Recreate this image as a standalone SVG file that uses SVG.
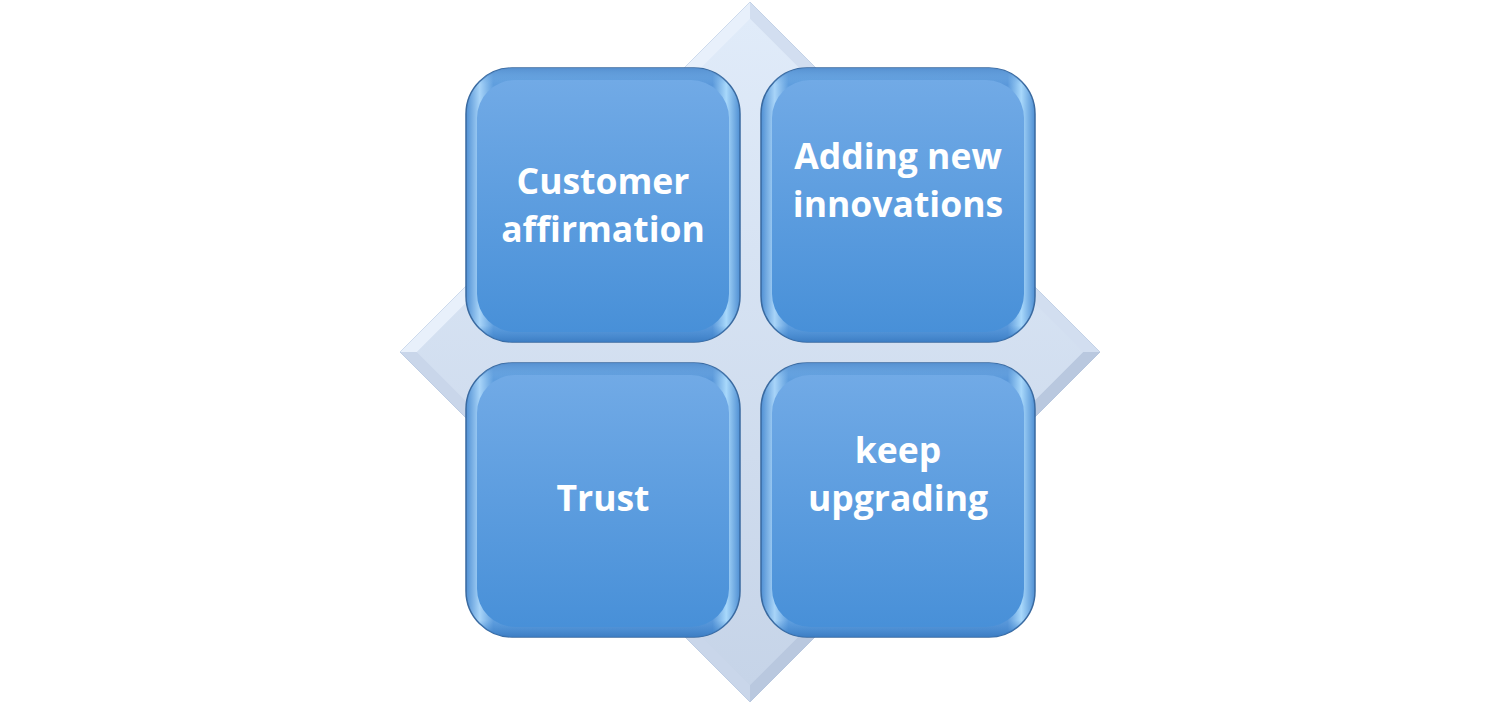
<svg xmlns="http://www.w3.org/2000/svg" width="1500" height="706" viewBox="0 0 1500 706">
<defs>
<linearGradient id="dia" x1="0" y1="0" x2="0" y2="1">
<stop offset="0" stop-color="#e3edfa"/>
<stop offset="1" stop-color="#c4d2e6"/>
</linearGradient>
<linearGradient id="diaIn" x1="0" y1="0" x2="0" y2="1">
<stop offset="0" stop-color="#e0ebf9"/>
<stop offset="1" stop-color="#c6d4e8"/>
</linearGradient>
<linearGradient id="box" x1="0" y1="0" x2="0" y2="1">
<stop offset="0" stop-color="#71aae6"/>
<stop offset="1" stop-color="#4890d8"/>
</linearGradient>
<linearGradient id="rim" x1="0" y1="0" x2="1" y2="0">
<stop offset="0" stop-color="#4f8fd3"/>
<stop offset="0.05" stop-color="#a8d4f8"/>
<stop offset="0.1" stop-color="#5f9ede"/>
<stop offset="0.9" stop-color="#5a98da"/>
<stop offset="0.95" stop-color="#a8d8fb"/>
<stop offset="1" stop-color="#4f8fd3"/>
</linearGradient>
<linearGradient id="rimV" x1="0" y1="0" x2="0" y2="1">
<stop offset="0" stop-color="#5690d0" stop-opacity="0.95"/>
<stop offset="0.06" stop-color="#7cb5ea" stop-opacity="0"/>
<stop offset="0.94" stop-color="#3f86d0" stop-opacity="0"/>
<stop offset="1" stop-color="#3b7cc2" stop-opacity="0.95"/>
</linearGradient>
</defs>
<style>
.bx{stroke:#3a6aa0;stroke-width:1.5}
.face{fill:url(#box)}
.txt{font-family:"Open Sans","Liberation Sans",sans-serif;font-weight:bold;font-size:35.5px;fill:#ffffff;text-anchor:middle}
</style>
<rect width="1500" height="706" fill="#ffffff"/>
<g id="diamond">
<polygon points="750,2 1100,352 750,702 400,352" fill="url(#dia)" stroke="#b5c6de" stroke-width="1"/>
<polygon points="750,2 1100,352 1083,352 750,19" fill="#d2def0"/>
<polygon points="750,2 750,19 417,352 400,352" fill="#e8f0fb"/>
<polygon points="400,352 417,352 750,685 750,702" fill="#c9d6ea"/>
<polygon points="1100,352 750,702 750,685 1083,352" fill="#b9c8df"/>
<polygon points="750,19 1083,352 750,685 417,352" fill="url(#diaIn)"/>
</g>
<g id="node-customer">
<rect class="bx" x="466" y="68" width="274" height="274" rx="46" fill="url(#rim)"/>
<rect x="466" y="68" width="274" height="274" rx="46" fill="url(#rimV)"/>
<rect class="face" x="477" y="80" width="252" height="252" rx="38"/>
<text class="txt" x="603" y="194">Customer</text>
<text class="txt" x="603" y="242">affirmation</text>
</g>
<g id="node-adding">
<rect class="bx" x="761" y="68" width="274" height="274" rx="46" fill="url(#rim)"/>
<rect x="761" y="68" width="274" height="274" rx="46" fill="url(#rimV)"/>
<rect class="face" x="772" y="80" width="252" height="252" rx="38"/>
<text class="txt" x="898" y="169">Adding new</text>
<text class="txt" x="898" y="217">innovations</text>
</g>
<g id="node-trust">
<rect class="bx" x="466" y="363" width="274" height="274" rx="46" fill="url(#rim)"/>
<rect x="466" y="363" width="274" height="274" rx="46" fill="url(#rimV)"/>
<rect class="face" x="477" y="375" width="252" height="252" rx="38"/>
<text class="txt" x="603" y="511">Trust</text>
</g>
<g id="node-keep">
<rect class="bx" x="761" y="363" width="274" height="274" rx="46" fill="url(#rim)"/>
<rect x="761" y="363" width="274" height="274" rx="46" fill="url(#rimV)"/>
<rect class="face" x="772" y="375" width="252" height="252" rx="38"/>
<text class="txt" x="898" y="463">keep</text>
<text class="txt" x="898" y="511">upgrading</text>
</g>
<g id="connectors"/>
</svg>
